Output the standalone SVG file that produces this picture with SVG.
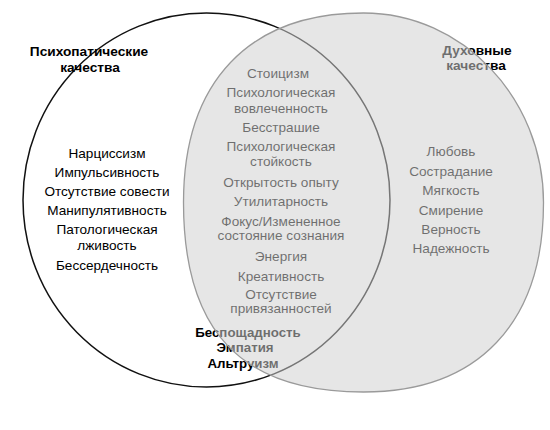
<svg xmlns="http://www.w3.org/2000/svg" width="550" height="430" viewBox="0 0 550 430">
<style>
text{font-family:"Liberation Sans",Arial,sans-serif;text-anchor:middle;fill:#000}
.t{font-size:13.7px;font-weight:bold}
.i{font-size:13.6px}
.b{font-size:13.3px;font-weight:bold}
</style>
<rect width="550" height="430" fill="#fff"/>
<g id="psychopathic">
<ellipse cx="206.5" cy="200" rx="183.5" ry="187" fill="#fff" stroke="#111" stroke-width="1.5"/>
<text class="t" x="89" y="56">Психопатические</text>
<text class="t" x="90" y="72">качества</text>
<text class="i" x="107" y="158">Нарциссизм</text>
<text class="i" x="107" y="177">Импульсивность</text>
<text class="i" x="107" y="196">Отсутствие совести</text>
<text class="i" x="107" y="215">Манипулятивность</text>
<text class="i" x="107" y="234">Патологическая</text>
<text class="i" x="107" y="250">лживость</text>
<text class="i" x="107" y="270">Бессердечность</text>
</g>
<g id="overlap">
<text class="i" x="278" y="78">Стоицизм</text>
<text class="i" x="281" y="97">Психологическая</text>
<text class="i" x="281" y="113">вовлеченность</text>
<text class="i" x="281" y="132">Бесстрашие</text>
<text class="i" x="281" y="151">Психологическая</text>
<text class="i" x="281" y="166">стойкость</text>
<text class="i" x="281" y="187">Открытость опыту</text>
<text class="i" x="281" y="206">Утилитарность</text>
<text class="i" x="281" y="226">Фокус/Измененное</text>
<text class="i" x="281" y="240">состояние сознания</text>
<text class="i" x="281" y="261">Энергия</text>
<text class="i" x="281" y="281">Креативность</text>
<text class="i" x="281" y="299">Отсутствие</text>
<text class="i" x="281" y="313">привязанностей</text>
<text class="b" x="248" y="337">Беспощадность</text>
<text class="b" x="245" y="352">Эмпатия</text>
<text class="b" x="243" y="368">Альтруизм</text>
</g>
<g id="spiritual">
<text class="t" x="477" y="55">Духовные</text>
<text class="t" x="476" y="70">качества</text>
<text class="i" x="451" y="156">Любовь</text>
<text class="i" x="451" y="176">Сострадание</text>
<text class="i" x="451" y="195">Мягкость</text>
<text class="i" x="451" y="215">Смирение</text>
<text class="i" x="451" y="234">Верность</text>
<text class="i" x="451" y="253">Надежность</text>
<path d="M543.5,202.5 C543.5,323.2 478.2,392 363.5,392 C241.1,392 183.5,331.4 183.5,202.5 C183.5,81.8 248.8,13 363.5,13 C462.5,13 543.5,98.3 543.5,202.5 Z" fill="#d0d0d0" fill-opacity="0.53" stroke="#9a9a9a" stroke-width="1.3"/>
</g>
</svg>
